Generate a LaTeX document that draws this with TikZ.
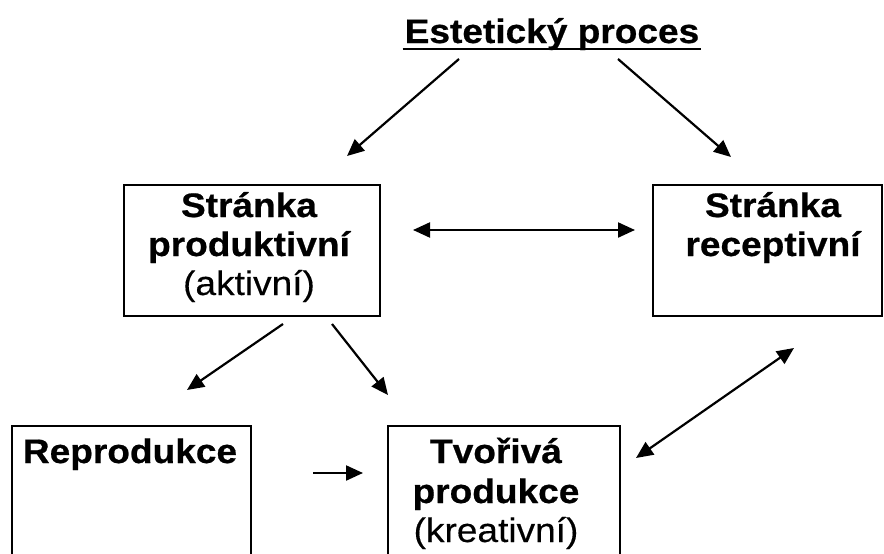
\documentclass[tikz,border=0pt]{standalone}
\usepackage{fontspec}
\setmainfont{Liberation Sans}[FakeStretch=1.09,FakeBold=0.3,BoldFeatures={FakeBold=0.6}]
\usetikzlibrary{arrows.meta,calc}
\begin{document}
\begin{tikzpicture}[x=1pt,y=-1pt,
  box/.style={draw,line width=2.2pt,inner sep=0pt,anchor=north west},
  lbl/.style={anchor=base,inner sep=0pt,font=\fontsize{34}{39}\selectfont\bfseries},
  lblr/.style={anchor=base,inner sep=0pt,font=\fontsize{34}{39}\selectfont},
  tip/.tip={Triangle[length=17pt,width=15pt]},
  conn/.style={line width=2.2pt,-tip},
  dconn/.style={line width=2.2pt,tip-tip}]
\useasboundingbox (0,0) rectangle (884,554);
\clip (0,0) rectangle (884,554);
\fill[white] (0,0) rectangle (884,554);

% title
\node[lbl] (t) at (552,43) {Estetický proces};
\draw[line width=2.4pt] ($(t.base west)+(-2,6)$) -- ($(t.base east)+(2,6)$);

% boxes
\node[box,minimum width=256pt,minimum height=131pt] (prod) at (123,184) {};
\node[box,minimum width=229pt,minimum height=131pt] (rec) at (652,184) {};
\node[box,minimum width=239pt,minimum height=150pt] (repro) at (11,425) {};
\node[box,minimum width=232pt,minimum height=150pt] (tvor) at (387,425) {};

% box texts
\node[lbl] (p1) at (249,217) {Stránka};
\node[lbl] (p2) at (249,256) {produktivní};
\node[lblr] (p3) at (249,295) {(aktivní)};
\node[lbl] (r1) at (773,217) {Stránka};
\node[lbl] (r2) at (773,256) {receptivní};
\node[lbl] (rp1) at (130,463) {Reprodukce};
\node[lbl] (tv1) at (496,463) {Tvořivá};
\node[lbl] (tv2) at (496,503) {produkce};
\node[lblr] (tv3) at (496,542) {(kreativní)};

% arrow end points
\coordinate (a1s) at (459,59);  \coordinate (a1e) at (347,156);
\coordinate (a2s) at (618,59);  \coordinate (a2e) at (731,157);
\coordinate (a3s) at (413,230); \coordinate (a3e) at (635,230);
\coordinate (a4s) at (283,324); \coordinate (a4e) at (187,390);
\coordinate (a5s) at (332,324); \coordinate (a5e) at (388,395);
\coordinate (a6s) at (313,473); \coordinate (a6e) at (363,473);
\coordinate (a7s) at (636,458); \coordinate (a7e) at (794,348);

\draw[conn] (a1s) -- (a1e);
\draw[conn] (a2s) -- (a2e);
\draw[dconn] (a3s) -- (a3e);
\draw[conn] (a4s) -- (a4e);
\draw[conn] (a5s) -- (a5e);
\draw[conn] (a6s) -- (a6e);
\draw[dconn] (a7s) -- (a7e);
\end{tikzpicture}
\end{document}
